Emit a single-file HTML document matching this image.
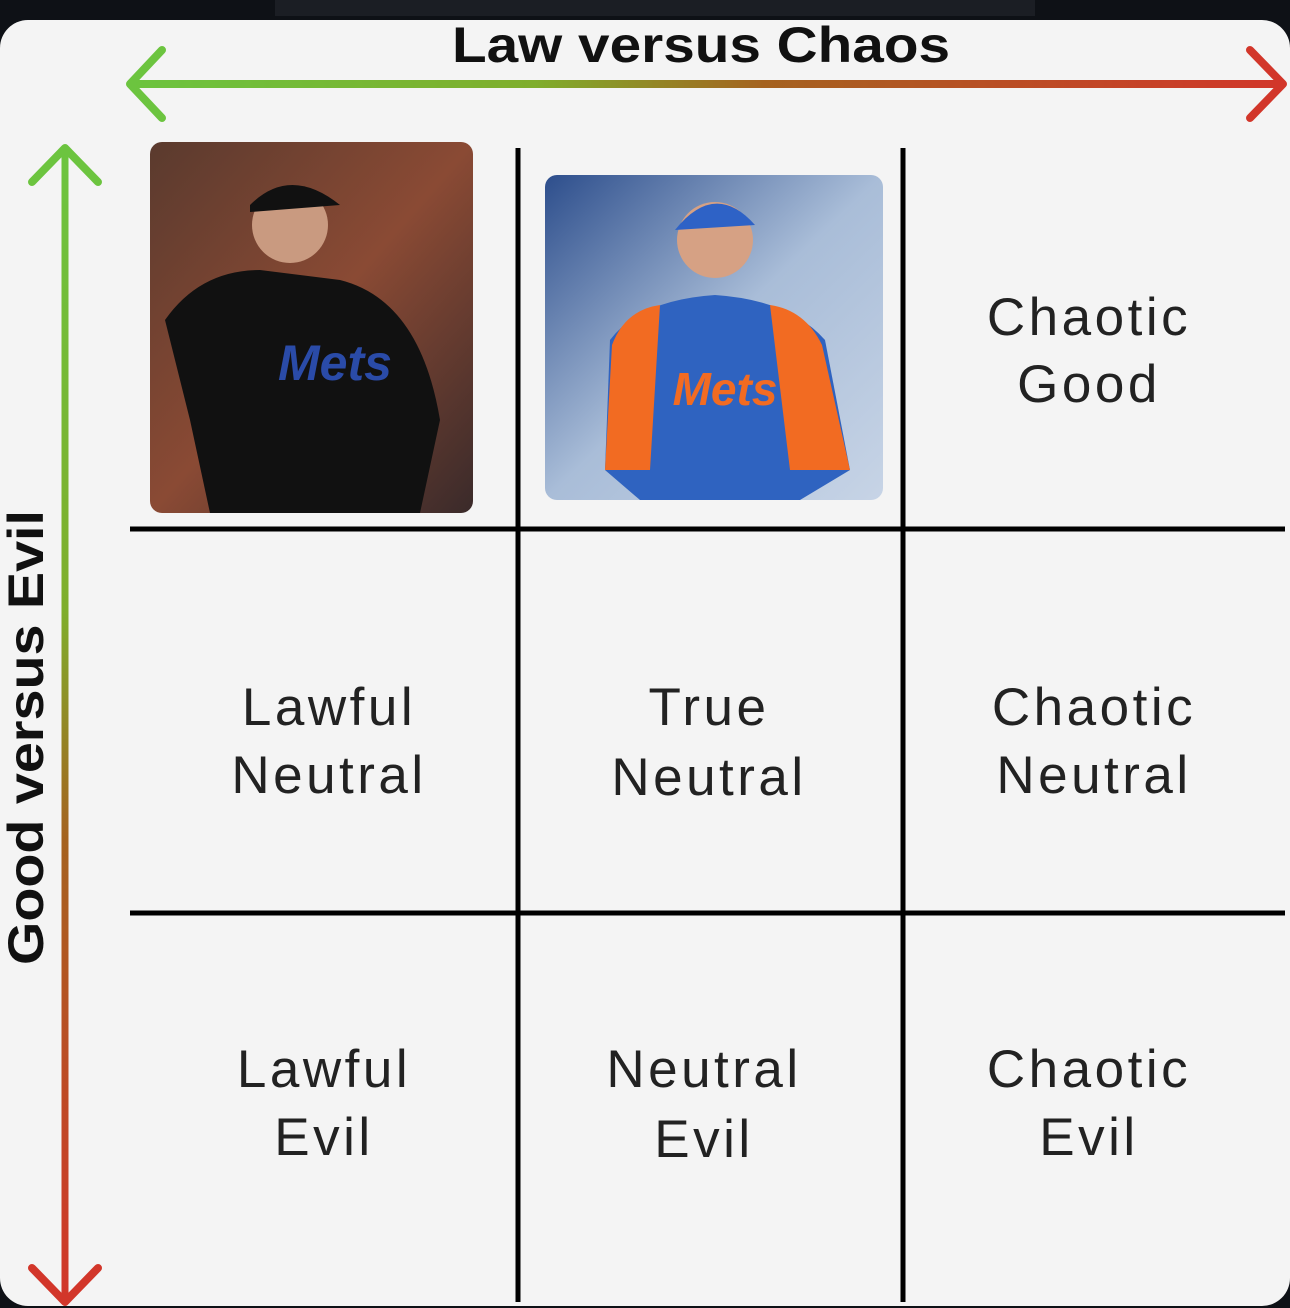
<!DOCTYPE html>
<html><head><meta charset="utf-8"><style>
html,body{margin:0;padding:0;background:#0e1116;width:1290px;height:1308px;overflow:hidden}
</style></head><body>
<svg width="1290" height="1308" viewBox="0 0 1290 1308" xmlns="http://www.w3.org/2000/svg" font-family="Liberation Sans, sans-serif">
<defs>
<linearGradient id="gh" gradientUnits="userSpaceOnUse" x1="130" y1="0" x2="1285" y2="0"><stop offset="0" stop-color="#6cc43f"/><stop offset="0.35" stop-color="#7fae2c"/><stop offset="0.55" stop-color="#a5621f"/><stop offset="1" stop-color="#d2362a"/></linearGradient>
<linearGradient id="gv" gradientUnits="userSpaceOnUse" x1="0" y1="148" x2="0" y2="1302"><stop offset="0" stop-color="#6cc43f"/><stop offset="0.4" stop-color="#7fae2c"/><stop offset="0.6" stop-color="#a5621f"/><stop offset="1" stop-color="#d2362a"/></linearGradient>
<linearGradient id="p1" x1="0" x2="1" y1="0" y2="1"><stop offset="0" stop-color="#5a3a2e"/><stop offset="0.5" stop-color="#8a4a34"/><stop offset="1" stop-color="#3a2a2a"/></linearGradient>
<linearGradient id="p2" x1="0" x2="1" y1="0" y2="1"><stop offset="0" stop-color="#2d4e8c"/><stop offset="0.5" stop-color="#a9bdd8"/><stop offset="1" stop-color="#c7d4e6"/></linearGradient>
</defs>
<rect x="275" y="0" width="760" height="16" fill="#1b1e24"/>
<rect x="0" y="20" width="1290" height="1286" rx="28" fill="#f4f4f4"/>
<text x="452" y="62" textLength="498" lengthAdjust="spacingAndGlyphs" font-size="50" font-weight="bold" fill="#111">Law versus Chaos</text>
<rect x="132" y="80" width="1150" height="8" fill="url(#gh)"/>
<polyline points="162,50 130,84 162,118" fill="none" stroke="#6cc43f" stroke-width="8" stroke-linecap="round" stroke-linejoin="round"/>
<polyline points="1250,50 1283,84 1250,118" fill="none" stroke="#d2362a" stroke-width="8" stroke-linecap="round" stroke-linejoin="round"/>
<rect x="61.5" y="150" width="7" height="1152" fill="url(#gv)"/>
<polyline points="32,182 65,148 98,182" fill="none" stroke="#6cc43f" stroke-width="8" stroke-linecap="round" stroke-linejoin="round"/>
<polyline points="32,1268 65,1302 98,1268" fill="none" stroke="#d2362a" stroke-width="8" stroke-linecap="round" stroke-linejoin="round"/>
<text transform="translate(43,965) rotate(-90)" textLength="455" lengthAdjust="spacingAndGlyphs" font-size="50" font-weight="bold" fill="#111">Good versus Evil</text>
<g stroke="#000" stroke-width="5">
<line x1="518" y1="148" x2="518" y2="1302"/>
<line x1="903" y1="148" x2="903" y2="1302"/>
<line x1="130" y1="529" x2="1285" y2="529"/>
<line x1="130" y1="913" x2="1285" y2="913"/>
</g>
<rect x="150" y="142" width="323" height="371" rx="12" fill="url(#p1)"/>
<path d="M165,320 Q200,270 260,270 L340,280 Q420,300 440,420 L420,513 L210,513 L190,420 Z" fill="#111"/>
<circle cx="290" cy="225" r="38" fill="#c99a80"/>
<path d="M250,205 Q290,165 340,205 L250,212 Z" fill="#111"/>
<text x="335" y="380" text-anchor="middle" font-size="50" font-style="italic" font-weight="bold" fill="#2a4ba8">Mets</text>
<rect x="545" y="175" width="338" height="325" rx="12" fill="url(#p2)"/>
<path d="M605,470 L610,340 Q640,300 715,295 Q790,300 825,340 L850,470 L800,500 L640,500 Z" fill="#2f63c0"/>
<path d="M605,470 L612,345 Q625,310 660,305 L650,470 Z M850,470 L822,345 Q805,310 770,305 L790,470 Z" fill="#f26b22"/>
<circle cx="715" cy="240" r="38" fill="#d6a184"/>
<path d="M675,230 Q715,180 755,225 Z" fill="#2e62c6"/>
<text x="725" y="405" text-anchor="middle" font-size="46" font-style="italic" font-weight="bold" fill="#f26b22">Mets</text>
<g font-size="53" fill="#222" text-anchor="middle" letter-spacing="3.5">
<text x="1089" y="335">Chaotic</text><text x="1089" y="402">Good</text>
<text x="329" y="725">Lawful</text><text x="329" y="793">Neutral</text>
<text x="709" y="725">True</text><text x="709" y="795">Neutral</text>
<text x="1094" y="725">Chaotic</text><text x="1094" y="793">Neutral</text>
<text x="324" y="1087">Lawful</text><text x="324" y="1155">Evil</text>
<text x="704" y="1087">Neutral</text><text x="704" y="1157">Evil</text>
<text x="1089" y="1087">Chaotic</text><text x="1089" y="1155">Evil</text>
</g>
</svg>
</body></html>
